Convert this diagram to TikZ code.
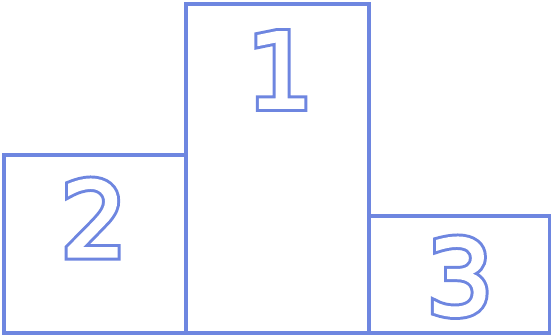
\documentclass[tikz,border=0pt]{standalone}
\usepackage{fontspec}
\setmainfont{DejaVu Sans}
\newfontfamily\cifraborde[FakeBold=7.5]{DejaVu Sans}
\newfontfamily\cifrafondo[FakeBold=1.8]{DejaVu Sans}
\usepackage{tikz}
\usetikzlibrary{positioning}

\definecolor{podio}{RGB}{110,134,224}

\begin{document}
\begin{tikzpicture}[
    x=1pt, y=-1pt,
    escalon/.style={draw=podio, line width=3.2pt},
    borde/.style={inner sep=0pt, text depth=0pt, text=podio,
                  font=\cifraborde\fontsize{104}{104}\selectfont},
    fondo/.style={inner sep=0pt, text depth=0pt, text=white,
                  font=\cifrafondo\fontsize{104}{104}\selectfont}
]
    \useasboundingbox (0,0) rectangle (551,336);
    % escalones
    \draw[escalon] (4,155) rectangle (186,333);
    \draw[escalon] (186,4) rectangle (369,333);
    \draw[escalon] (369,216) rectangle (550,333);
    % numeros
    \node[borde] (primero) at (280,70) {1};
    \node[fondo] (primero-f) at (primero.center) {1};
    \node[borde] (segundo) at (94,218) {2};
    \node[fondo] (segundo-f) at (segundo.center) {2};
    \node[borde] (tercero) at (460,276) {3};
    \node[fondo] (tercero-f) at (tercero.center) {3};
\end{tikzpicture}
\end{document}
